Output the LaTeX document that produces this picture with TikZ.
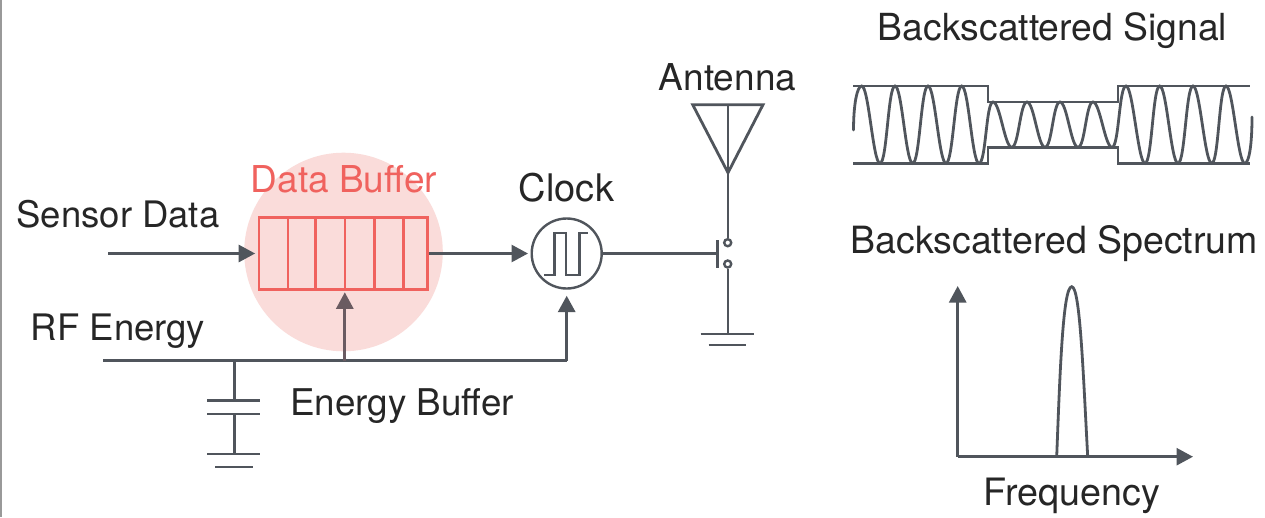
\documentclass[tikz,border=0pt]{standalone}
\usepackage{fontspec}
\setmainfont{TeX Gyre Heros}
\usetikzlibrary{arrows.meta,shapes.geometric}
\definecolor{ink}{HTML}{50555C}
\definecolor{inkred}{HTML}{6A5B61}
\definecolor{redl}{HTML}{F0625E}
\definecolor{blush}{HTML}{FADCDA}
\definecolor{txt}{HTML}{262626}
\tikzset{
  wire/.style={draw=ink,line width=2.8pt},
  thin wire/.style={draw=ink,line width=2.4pt},
  flow/.style={wire,-{Triangle[length=16.5pt,width=17pt]}},
  lab/.style={anchor=base,inner sep=0pt,font=\fontsize{36.5}{42}\selectfont,text=txt},
  fs/.style={font=\fontsize{#1}{42}\selectfont},
  cell/.style={draw=redl,line width=2.6pt}
}
\newcommand{\wv}[2]{.. controls +(7,0) and +(-7,0) .. (#1,#2)}
\begin{document}
\begin{tikzpicture}[x=1pt,y=-1pt]
\useasboundingbox (0,0) rectangle (1265,517);
\fill[white] (0,0) rectangle (1265,517);
\draw[gray!80,line width=2.4pt] (1,0) -- (1,517);
% data buffer
\node[ellipse,fill=blush,minimum width=198.6pt,minimum height=198.6pt,inner sep=0pt] (halo) at (343.5,252) {};
\node[lab,fs=37,text=redl] (dbl) at (344,192) {Data Buffer};
\node[rectangle,cell,minimum width=168.5pt,minimum height=72pt,inner sep=0pt] (buf) at (343.2,253.5) {};
\foreach \x in {288,315.7,344.8,374.3,403.7}
  \draw[cell] (\x,217.5) -- (\x,289.5);
% labels
\node[lab] (sd) at (118,227.7) {Sensor Data};
\node[lab] (rf) at (118,340) {RF Energy};
\node[lab,fs=36.8] (eb) at (402,415) {Energy Buffer};
\node[lab,fs=38] (ck) at (566.5,201) {Clock};
\node[lab,fs=37] (an) at (727.5,90) {Antenna};
\node[lab,fs=37.3] (bs) at (1052.5,40) {Backscattered Signal};
\node[lab,fs=37.5] (bp) at (1054,253) {Backscattered Spectrum};
\node[lab,fs=37.7] (fr) at (1072,505) {Frequency};
% clock
\node[circle,draw=ink,line width=2.4pt,minimum size=70pt,inner sep=0pt] (clk) at (566.7,253.5) {};
\draw[thin wire] (544.3,275) -- (554.3,275) -- (554.3,232.7) -- (566,232.7) -- (566,275) -- (579.3,275) -- (579.3,232.7) -- (588.3,232.7);
% connectors
\coordinate (sin) at (108,253.5);
\draw[flow,shorten >=2.5pt] (sin) -- (buf.west);
\draw[flow,shorten >=2.5pt] (buf.east) -- (clk.west);
\coordinate (rfa) at (103,360.7);
\coordinate (rfb) at (566.7,360.7);
\coordinate (rfm) at (344.8,360.7);
\draw[wire] (rfa) -- (rfb);
\draw[flow,draw=inkred,fill=inkred,shorten >=1.5pt] (rfm) -- (buf.south -| rfm);
\draw[flow,line width=3.4pt,shorten >=6pt] (rfb) -- (clk.south);
% capacitor
\coordinate (cta) at (234.6,360.7);
\coordinate (ctb) at (234.6,400.7);
\coordinate (cbt) at (234.6,414);
\coordinate (cbb) at (234.6,454);
\draw[thin wire] (cta) -- (ctb);
\draw[thin wire] (cbt) -- (cbb);
\draw[wire] (207,400.7) -- (260,400.7);
\draw[wire] (207,414) -- (260,414);
\draw[wire] (207,454) -- (260,454);
\draw[wire] (215,467) -- (252.6,467);
% switch
\coordinate (gate) at (717.3,253.5);
\draw[thin wire] (clk.east) -- (gate);
\draw[wire] (717.3,240) -- (717.3,268);
\node[circle,draw=ink,line width=2.4pt,minimum size=7pt,inner sep=0pt] (s1) at (727.7,242.7) {};
\node[circle,draw=ink,line width=2.4pt,minimum size=7pt,inner sep=0pt] (s2) at (727.7,264) {};
\coordinate (apex) at (728,172.7);
\coordinate (atop) at (728,104.7);
\coordinate (gnd) at (728,334);
\draw[wire,line join=miter] (692.7,104.7) -- (763,104.7) -- (apex) -- cycle;
\draw[thin wire] (atop) -- (s1.north -| atop);
\draw[thin wire] (s2.south -| gnd) -- (gnd);
\draw[wire] (700.7,334) -- (754,334);
\draw[wire] (708.7,345) -- (746,345);
% signal
\draw[wire] (853,86) -- (988,86) -- (988,102) -- (1118,102) -- (1118,86) -- (1250,86);
\draw[wire] (853,163.3) -- (988,163.3) -- (988,147.3) -- (1118,147.3) -- (1118,163.3) -- (1250,163.3);
\draw[wire,line cap=round] (853.5,130) .. controls (853.5,105) and (857,86) .. (861.7,86)
  \wv{880}{163.3} \wv{895}{86} \wv{912.7}{163.3} \wv{928}{86} \wv{946}{163.3} \wv{961.7}{86} \wv{979}{163.3}
  \wv{993}{102} \wv{1011.7}{147.3} \wv{1027}{102} \wv{1045}{147.3} \wv{1060}{102} \wv{1078}{147.3} \wv{1093}{102} \wv{1112}{147.3}
  \wv{1126}{86} \wv{1145}{163.3} \wv{1159.7}{86} \wv{1178}{163.3} \wv{1193}{86} \wv{1211.7}{163.3} \wv{1226}{86} \wv{1244.7}{163.3}
  .. controls (1249,163.3) and (1252,145) .. (1252,117);
% spectrum
\coordinate (org) at (957.7,456.7);
\coordinate (yt) at (957.7,286);
\coordinate (xt) at (1193,456.7);
\draw[flow] (org) -- (yt);
\draw[flow] (org) -- (xt);
\draw[wire] (1056.7,456.7) .. controls (1060,370) and (1063,286.7) .. (1071.7,286.7)
  .. controls (1080,286.7) and (1083,370) .. (1087.7,456.7);
\end{tikzpicture}
\end{document}
